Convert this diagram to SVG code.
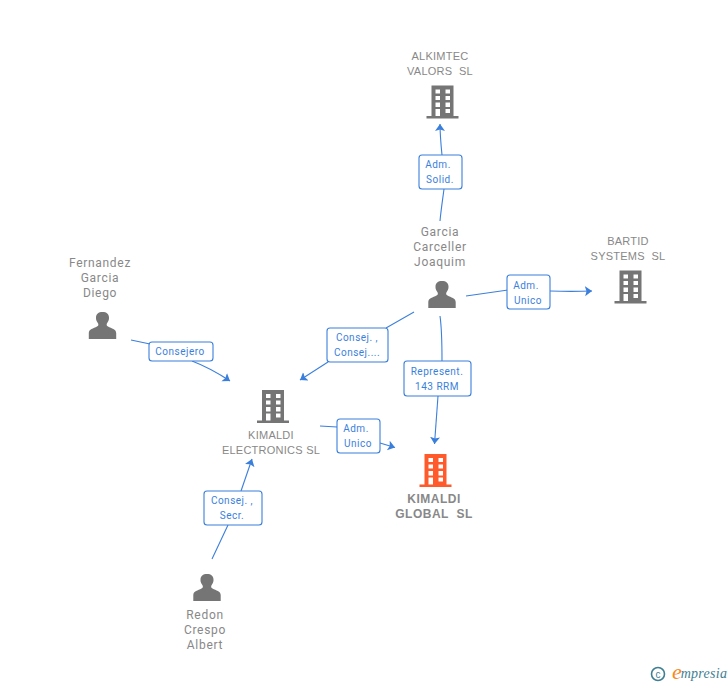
<svg xmlns="http://www.w3.org/2000/svg" width="728" height="685" viewBox="0 0 728 685">
<style>
text{font-family:"Roboto","Liberation Sans",sans-serif;text-anchor:middle;white-space:pre}
.p{font-size:12px;fill:#888;letter-spacing:.7px}
.c{font-family:"Liberation Sans",Arial,sans-serif;font-size:11px;fill:#888;letter-spacing:.25px}
.m{font-family:"Liberation Sans",Arial,sans-serif;font-size:12px;font-weight:bold;fill:#888;letter-spacing:.5px}
.l{font-size:10px;fill:#3b7fdc;letter-spacing:.5px}
.box{fill:#fff;stroke:#3b7fdc;stroke-width:1.1}
.e{fill:none;stroke:#3b7fdc;stroke-width:1.1}
</style>
<defs>
<marker id="a" markerUnits="userSpaceOnUse" markerWidth="10" markerHeight="12" refX="7" refY="5" orient="auto"><path d="M0 0L7 5L0 10L1.500 5Z" fill="#3b7fdc"/></marker>
<path id="b" fill-rule="evenodd" d="M-11-33H11V-2.500H16V0H-16V-2.500H-11ZM-7-29V-25H-2.500V-29ZM3-29V-25H7.500V-29ZM-7-22.500V-18.500H-2.500V-22.500ZM3-22.500V-18.500H7.500V-22.500ZM-7-16V-11.500H-2.500V-16ZM3-16V-11.500H7.500V-16ZM-7-9.500V-2.500H-2.500V-9.500ZM3-9.500V-5.500H7.500V-9.500Z"/>
<path id="u" d="M-13.700 0V-6C-13.700-10-9-10.500-5.500-12.500C-3.500-13.500-4-15-5-16.500C-6.500-18.500-6.500-20-6.500-21.500C-6.500-25-4-27-.0-27C4-27 6.500-25 6.500-21.500C6.500-20 6.500-18.500 5-16.500C4-15 3.500-13.500 5.500-12.500C9-10.500 13.700-10 13.700-6V0Z" fill="#757575"/>
</defs>
<g id="connectors">
<path class="e" d="M442 155C441 145 440 135 440 124" marker-end="url(#a)"/>
<path class="e" d="M444 189C443 197 441 210 440 221"/>
<path class="e" d="M466 296C480 294 494 292 508 290"/>
<path class="e" d="M550 291C565 291.500 578 291.500 592 291" marker-end="url(#a)"/>
<path class="e" d="M414 312L386 328"/>
<path class="e" d="M328 362L300 380" marker-end="url(#a)"/>
<path class="e" d="M440 316C442 330 442 345 442 361"/>
<path class="e" d="M438 396L434.500 444" marker-end="url(#a)"/>
<path class="e" d="M320 426L337 427"/>
<path class="e" d="M380 443L395 447.500" marker-end="url(#a)"/>
<path class="e" d="M131 340L150 344"/>
<path class="e" d="M192 361C205 366 218 373 230 381" marker-end="url(#a)"/>
<path class="e" d="M241 491L252 459" marker-end="url(#a)"/>
<path class="e" d="M228 525L212 559"/>
</g>
<g id="alkimtec"><use href="#b" transform="translate(442.500 118.500)" fill="#757575"/><text class="c" x="440" y="60">ALKIMTEC</text><text class="c" x="440" y="75">VALORS  SL</text></g>
<g id="bartid"><use href="#b" transform="translate(630.500 303.500)" fill="#757575"/><text class="c" x="628" y="245">BARTID</text><text class="c" x="628" y="260">SYSTEMS  SL</text></g>
<g id="electronics"><use href="#b" transform="translate(273 423)" fill="#757575"/><text class="c" x="271" y="439">KIMALDI</text><text class="c" x="271" y="454">ELECTRONICS SL</text></g>
<g id="global"><use href="#b" transform="translate(435.500 487)" fill="#ff5a2c"/><text class="m" x="434" y="503">KIMALDI</text><text class="m" x="434" y="518">GLOBAL  SL</text></g>
<g id="garcia"><use href="#u" transform="translate(442 308)"/><text class="p" x="440" y="236">Garcia</text><text class="p" x="440" y="251">Carceller</text><text class="p" x="440" y="266">Joaquim</text></g>
<g id="fernandez"><use href="#u" transform="translate(102.500 339)"/><text class="p" x="100" y="267">Fernandez</text><text class="p" x="100" y="282">Garcia</text><text class="p" x="100" y="297">Diego</text></g>
<g id="redon"><use href="#u" transform="translate(207 601)"/><text class="p" x="205" y="619">Redon</text><text class="p" x="205" y="634">Crespo</text><text class="p" x="205" y="649">Albert</text></g>
<g id="label-solid"><rect class="box" x="419" y="155" width="43" height="34" rx="3"/><text class="l" x="438" y="168">Adm.</text><text class="l" x="440" y="183">Solid.</text></g>
<g id="label-bartid"><rect class="box" x="507" y="275" width="43" height="34" rx="3"/><text class="l" x="526" y="289">Adm.</text><text class="l" x="528" y="304">Unico</text></g>
<g id="label-consej"><rect class="box" x="327" y="328" width="61" height="34" rx="3"/><text class="l" x="357" y="341">Consej. ,</text><text class="l" x="357" y="356">Consej....</text></g>
<g id="label-repr"><rect class="box" x="404" y="361" width="67" height="35" rx="3"/><text class="l" x="437" y="375">Represent.</text><text class="l" x="437" y="390">143 RRM</text></g>
<g id="label-unico"><rect class="box" x="337" y="419" width="43" height="34" rx="3"/><text class="l" x="356" y="432">Adm.</text><text class="l" x="358" y="447">Unico</text></g>
<g id="label-consejero"><rect class="box" x="149" y="342" width="64" height="19" rx="3"/><text class="l" x="180" y="355">Consejero</text></g>
<g id="label-secr"><rect class="box" x="204" y="491" width="58" height="34" rx="3"/><text class="l" x="232" y="504">Consej. ,</text><text class="l" x="232" y="519">Secr.</text></g>
<g id="logo"><circle cx="658" cy="674" r="6.500" fill="none" stroke="#3f7f93" stroke-width="1.600"/><text x="658" y="677.500" style="font-size:10px;fill:#3f7f93;font-family:'Liberation Sans',sans-serif;letter-spacing:0">c</text><text x="677" y="679" style="font-family:'Liberation Serif',serif;font-style:italic;font-size:22px;fill:#f58a1f">e</text><text x="704" y="678" style="font-family:'Liberation Serif',serif;font-style:italic;font-size:14px;fill:#3f7f93;letter-spacing:.3px">mpresia</text></g>
</svg>
